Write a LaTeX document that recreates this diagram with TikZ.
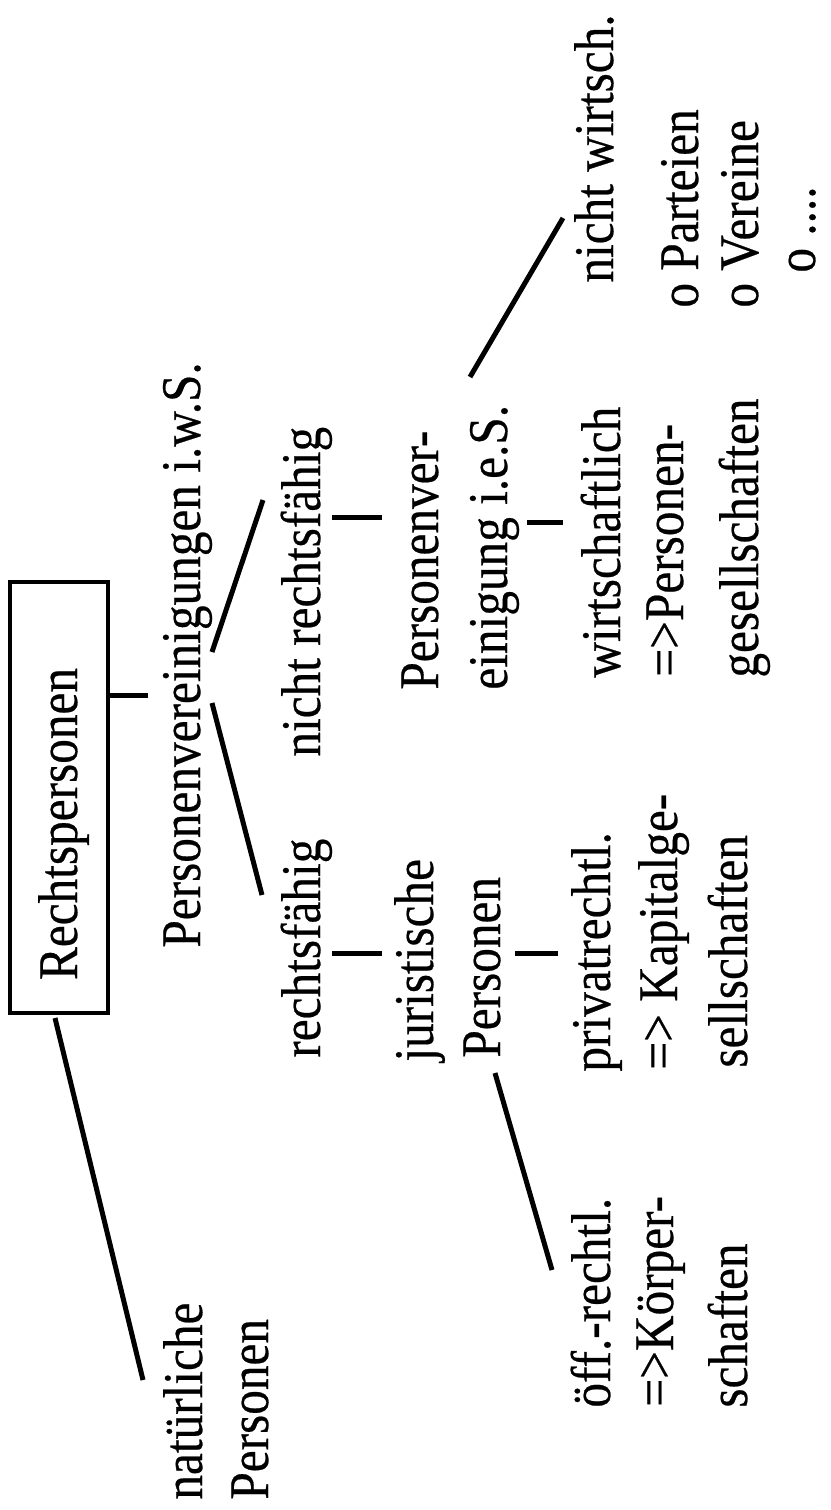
\documentclass[tikz,border=0pt]{standalone}
\usepackage{fontspec}
\setmainfont{Liberation Serif}[FakeStretch=0.88,FakeBold=0.4]
\begin{document}
\begin{tikzpicture}[x=0.5pt,y=-0.5pt,
  txt/.style={rotate=90, anchor=base west, inner sep=0pt, font=\fontsize{28pt}{33pt}\selectfont},
  conn/.style={line width=2.5pt, line cap=butt},
  rootbox/.style={draw, line width=2pt, rotate=90, inner ysep=0pt, inner xsep=16.5pt,
    text width=182.5pt, align=left, text height=33.5pt, text depth=15.5pt,
    font=\fontsize{28pt}{33pt}\selectfont}]
\useasboundingbox (0,0) rectangle (830,1510);
% root
\node[rootbox] (root) at (59,797.5) {Rechtspersonen};
% level 2
\node[txt] (pv)   at (200,948)  {Personenvereinigungen i.w.S.};
\node[txt] (nat1) at (202,1500) {natürliche};
\node[txt] (nat2) at (268,1500) {Personen};
% level 3
\node[txt] (rf)   at (320,1058) {rechtsfähig};
\node[txt] (nrf)  at (320,757)  {nicht rechtsfähig};
% level 4
\node[txt] (jur1) at (433,1062) {juristische};
\node[txt] (jur2) at (500,1058) {Personen};
\node[txt] (pve1) at (438,690)  {Personenver-};
\node[txt] (pve2) at (507,690)  {einigung i.e.S.};
% level 5
\node[txt] (oef1) at (610,1408) {öff.-rechtl.};
\node[txt] (oef2) at (673,1407) {=>Körper-};
\node[txt] (oef3) at (747,1408) {schaften};
\node[txt] (prv1) at (610,1072) {privatrechtl.};
\node[txt] (prv2) at (677,1070) {=> Kapitalge-};
\node[txt] (prv3) at (747,1068) {sellschaften};
\node[txt] (wrt1) at (620,678)  {wirtschaftlich};
\node[txt] (wrt2) at (683,677)  {=>Personen-};
\node[txt] (wrt3) at (758,678)  {gesellschaften};
\node[txt] (nw)   at (613,283)  {nicht wirtsch.};
\node[txt] (par)  at (698,308)  {o Parteien};
\node[txt] (ver)  at (758,308)  {o Vereine};
\node[txt] (etc)  at (815,273)  {o ....};
% connector end points
\coordinate (a1) at (55,1018);   \coordinate (a2) at (143,1380);
\coordinate (b1) at (108,695);   \coordinate (b2) at (148,695);
\coordinate (c1) at (212,652);   \coordinate (c2) at (263,500);
\coordinate (d1) at (212,703);   \coordinate (d2) at (262,895);
\coordinate (e1) at (332,953);   \coordinate (e2) at (382,953);
\coordinate (f1) at (332,517);   \coordinate (f2) at (382,517);
\coordinate (g1) at (515,953);   \coordinate (g2) at (558,953);
\coordinate (h1) at (495,1073);  \coordinate (h2) at (552,1270);
\coordinate (i1) at (527,522);   \coordinate (i2) at (563,522);
\coordinate (j1) at (470,377);   \coordinate (j2) at (563,218);
\draw[conn] (a1) -- (a2);
\draw[conn] (b1) -- (b2);
\draw[conn] (c1) -- (c2);
\draw[conn] (d1) -- (d2);
\draw[conn] (e1) -- (e2);
\draw[conn] (f1) -- (f2);
\draw[conn] (g1) -- (g2);
\draw[conn] (h1) -- (h2);
\draw[conn] (i1) -- (i2);
\draw[conn] (j1) -- (j2);
\end{tikzpicture}
\end{document}
